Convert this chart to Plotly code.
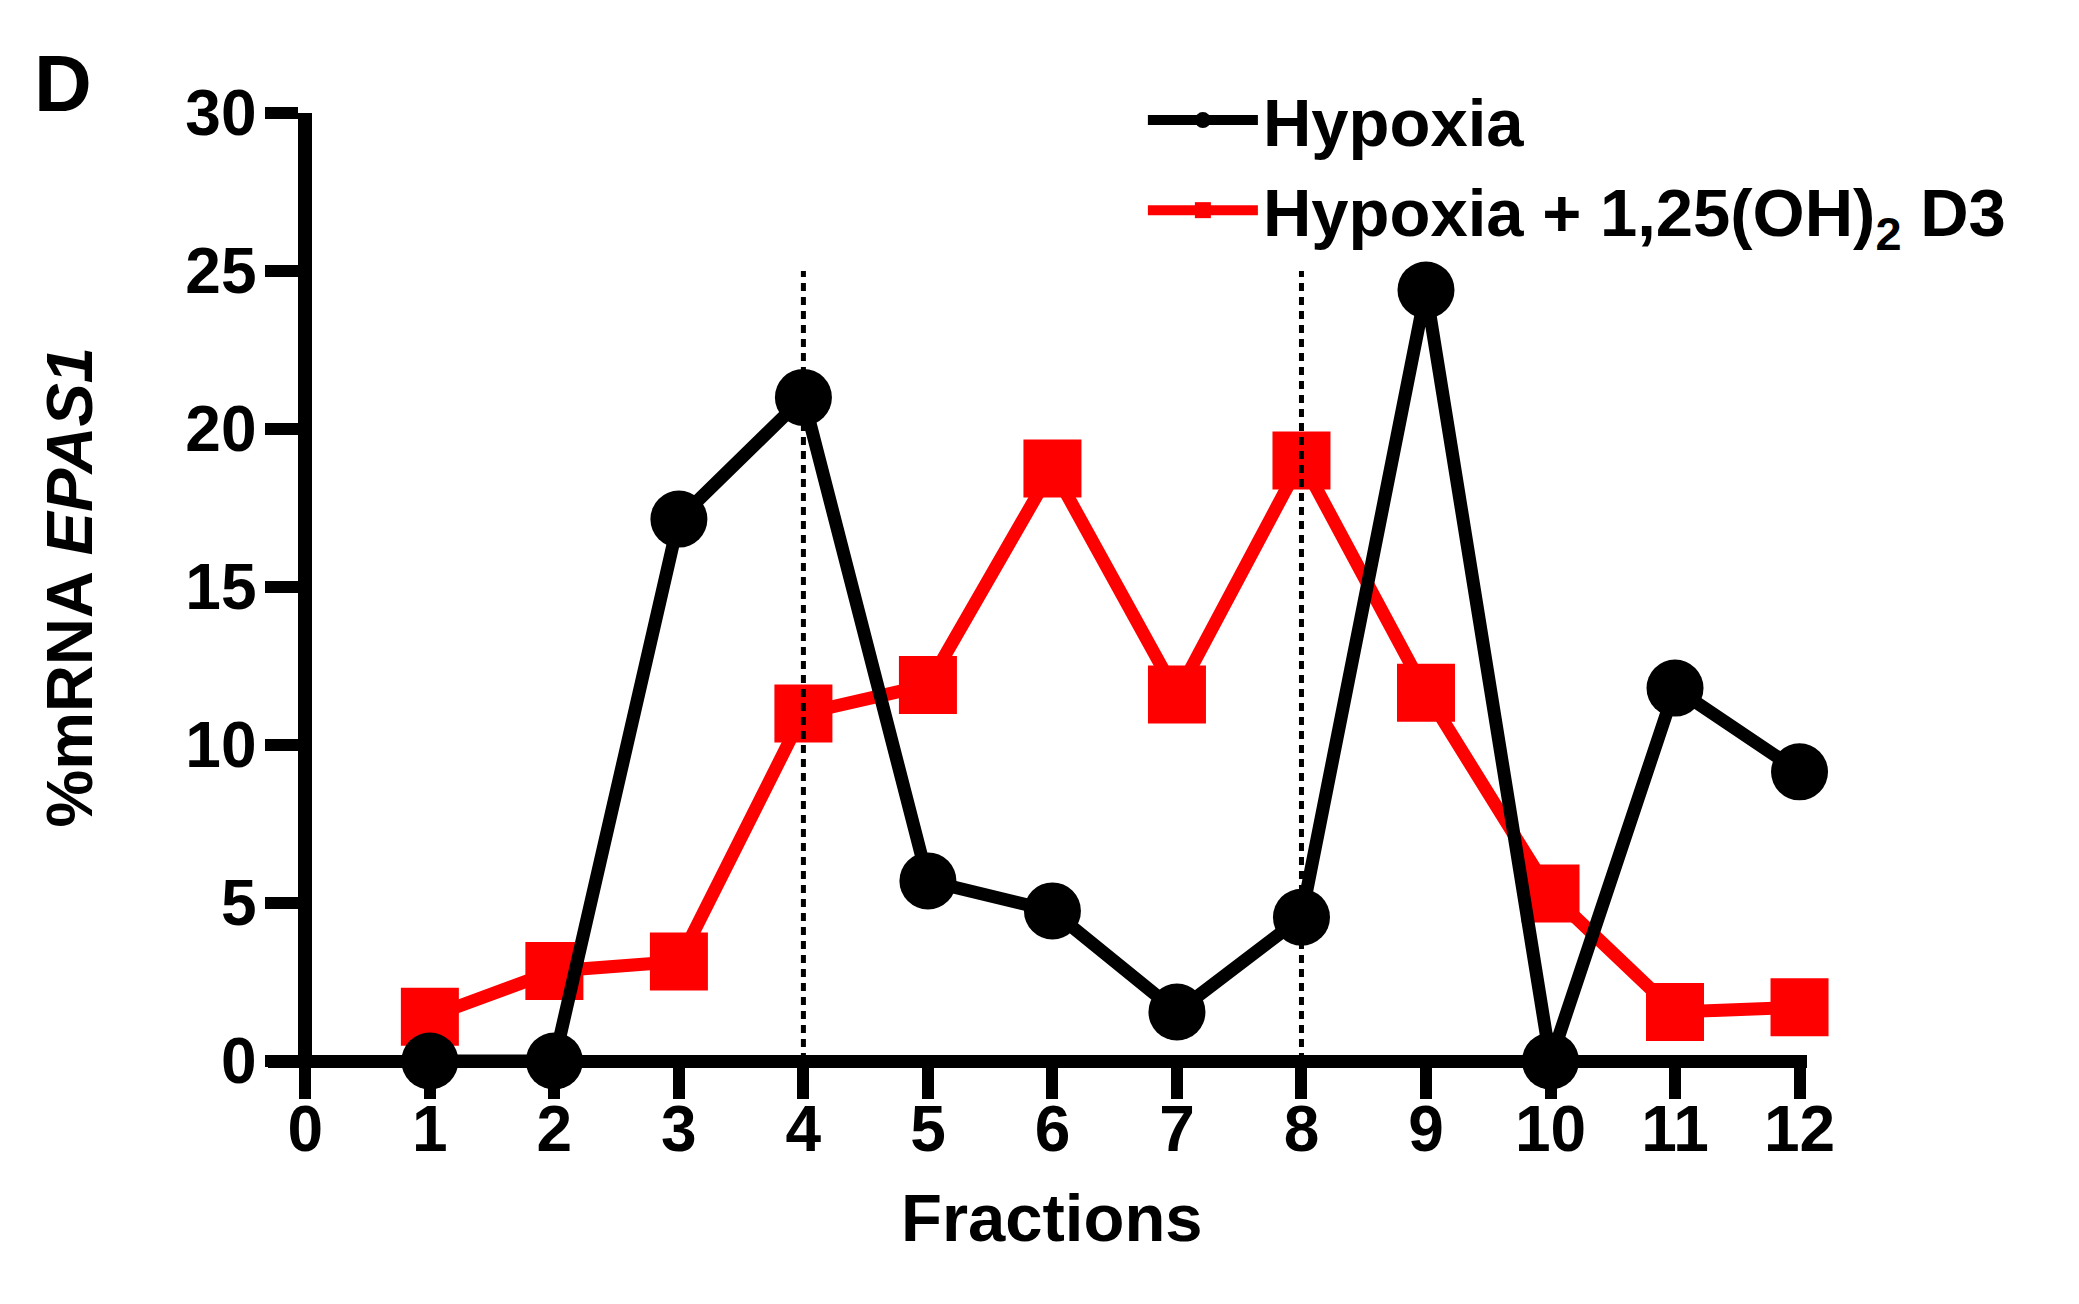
import plotly.graph_objects as go

# data
fractions = [1, 2, 3, 4, 5, 6, 7, 8, 9, 10, 11, 12]
hypoxia = [0.0, 0.0, 17.15, 21.0, 5.7, 4.75, 1.55, 4.55, 24.4, 0.0, 11.8, 9.15]
hypoxia_d3 = [1.4, 2.85, 3.15, 11.0, 11.9, 18.75, 11.6, 19.0, 11.65, 5.3, 1.55, 1.7]
divider_x = [4, 8]
divider_top = 25
x_ticks = list(range(0, 13))
y_ticks = [0, 5, 10, 15, 20, 25, 30]

W, H = 2079, 1304
FONT = "Liberation Sans, Arial, sans-serif"
BLACK = "#000000"
RED = "#ff0000"

# the page puts the figure 8px in from the corner, so screen targets are shifted back
PAGE_OFFSET = 8

# plot geometry (screen pixels)
x_range = [-0.3, 12.06]
y_range = [0, 30]
x0_px, x12_px = 305, 1800
unit = (x12_px - x0_px) / 12
left = x0_px + x_range[0] * unit - PAGE_OFFSET
right = x0_px + x_range[1] * unit - PAGE_OFFSET
top, bottom = 113 - PAGE_OFFSET, 1061 - PAGE_OFFSET
pw = right - left
ph = bottom - top


def paper_x(px):
    return (px - PAGE_OFFSET - left) / pw


def paper_y(py):
    return (bottom - (py - PAGE_OFFSET)) / ph


# vertical dotted guides
guide_x, guide_y = [], []
for gx in divider_x:
    guide_x += [gx, gx, None]
    guide_y += [0, divider_top, None]

fig = go.Figure()

fig.add_trace(go.Scatter(
    x=fractions, y=hypoxia_d3,
    mode="lines+markers",
    name="Hypoxia + 1,25(OH)<sub>2</sub> D3",
    line=dict(color=RED, width=13),
    marker=dict(symbol="square", size=58, color=RED),
    cliponaxis=False,
    legendrank=2,
))

fig.add_trace(go.Scatter(
    x=guide_x, y=guide_y,
    mode="lines",
    line=dict(color=BLACK, width=5, dash="8px,6px"),
    showlegend=False,
    hoverinfo="skip",
))

fig.add_trace(go.Scatter(
    x=fractions, y=hypoxia,
    mode="lines+markers",
    name="Hypoxia",
    line=dict(color=BLACK, width=13),
    marker=dict(symbol="circle", size=57, color=BLACK),
    cliponaxis=False,
    legendrank=1,
))

tick_font = dict(family=FONT, size=64, color=BLACK, weight="bold")

fig.update_layout(
    width=W,
    height=H,
    plot_bgcolor="white",
    paper_bgcolor="white",
    margin=dict(l=left, r=W - right, t=top, b=H - bottom, autoexpand=False),
    showlegend=True,
    legend=dict(
        x=paper_x(1143), y=paper_y(70),
        xanchor="left", yanchor="top",
        font=dict(family=FONT, size=67, color=BLACK, weight="bold"),
        itemwidth=110,
        tracegroupgap=0,
        bgcolor="rgba(0,0,0,0)",
    ),
    xaxis=dict(
        range=x_range,
        anchor="free",
        position=0,
        tickvals=x_ticks,
        ticks="outside",
        ticklen=31,
        tickwidth=12,
        tickcolor=BLACK,
        showline=True,
        linewidth=13,
        linecolor=BLACK,
        showgrid=False,
        zeroline=False,
        tickfont=tick_font,
        ticklabelstandoff=-25,
        layer="below traces",
    ),
    yaxis=dict(
        range=y_range,
        anchor="free",
        position=paper_x(x0_px),
        tickvals=y_ticks,
        ticks="outside",
        ticklen=33,
        tickwidth=12,
        tickcolor=BLACK,
        showline=True,
        linewidth=14,
        linecolor=BLACK,
        showgrid=False,
        zeroline=False,
        tickfont=tick_font,
        ticklabelstandoff=-4,
        layer="below traces",
    ),
    annotations=[
        dict(
            text="D", x=paper_x(63), y=paper_y(83),
            xref="paper", yref="paper", showarrow=False,
            xanchor="center", yanchor="middle",
            font=dict(family=FONT, size=80, color=BLACK, weight="bold"),
        ),
        dict(
            text="%mRNA <i>EPAS1</i>", x=paper_x(69), y=15,
            xref="paper", yref="y", showarrow=False, textangle=-90,
            xanchor="center", yanchor="middle",
            font=dict(family=FONT, size=65, color=BLACK, weight="bold"),
        ),
        dict(
            text="Fractions", x=6, y=paper_y(1217),
            xref="x", yref="paper", showarrow=False,
            xanchor="center", yanchor="middle",
            font=dict(family=FONT, size=67, color=BLACK, weight="bold"),
        ),
    ],
)

fig.write_html("out.html")
